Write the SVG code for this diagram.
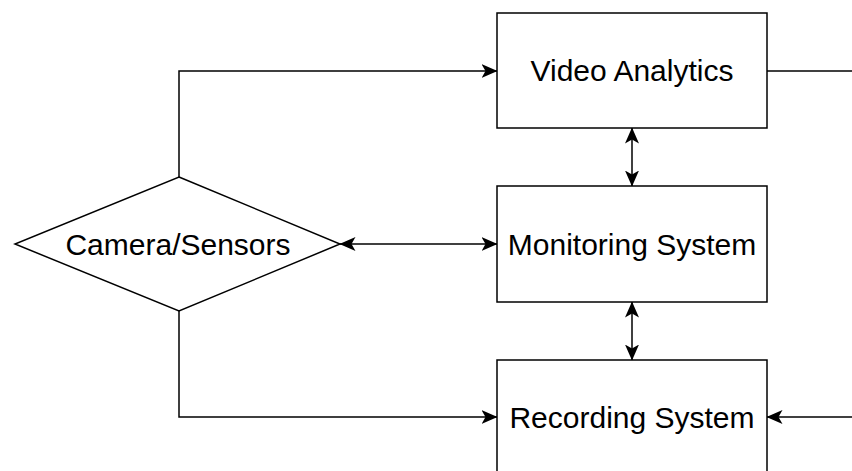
<svg xmlns="http://www.w3.org/2000/svg" width="852" height="471" viewBox="0 0 852 471">
<style>
.box{fill:#ffffff;stroke:#000000;stroke-width:1.5}
.lbl{font-family:"Liberation Sans",Arial,sans-serif;font-size:30px;fill:#000000;text-anchor:middle}
.con{fill:none;stroke:#000000;stroke-width:1.5}
</style>
<defs>
<marker id="arr" viewBox="0 0 16 14" refX="15.5" refY="7" markerWidth="16" markerHeight="14" markerUnits="userSpaceOnUse" orient="auto-start-reverse">
<path d="M0,0 L16,7 L0,14 L4,7 Z" fill="#000000"/>
</marker>
</defs>
<rect width="852" height="471" fill="#ffffff"/>
<g id="connectors">
<path class="con" d="M179,177 L179,71 L497,71" marker-end="url(#arr)"/>
<path class="con" d="M179,311 L179,417 L497,417" marker-end="url(#arr)"/>
<path class="con" d="M340,244 L497,244" marker-start="url(#arr)" marker-end="url(#arr)"/>
<path class="con" d="M632,128 L632,186" marker-start="url(#arr)" marker-end="url(#arr)"/>
<path class="con" d="M632,302 L632,360" marker-start="url(#arr)" marker-end="url(#arr)"/>
<path class="con" d="M767,71 L852,71"/>
<path class="con" d="M852,417 L767,417" marker-end="url(#arr)"/>
</g>
<g id="camera-sensors">
<path class="box" d="M179,177 L340,244 L179,311 L15,244 Z"/>
<text class="lbl" x="178" y="255">Camera/Sensors</text>
</g>
<g id="video-analytics">
<rect class="box" x="497" y="13" width="270" height="115"/>
<text class="lbl" x="632" y="81">Video Analytics</text>
</g>
<g id="monitoring-system">
<rect class="box" x="497" y="186" width="270" height="116"/>
<text class="lbl" x="632" y="255">Monitoring System</text>
</g>
<g id="recording-system">
<rect class="box" x="497" y="360" width="270" height="120"/>
<text class="lbl" x="632" y="428">Recording System</text>
</g>
</svg>
